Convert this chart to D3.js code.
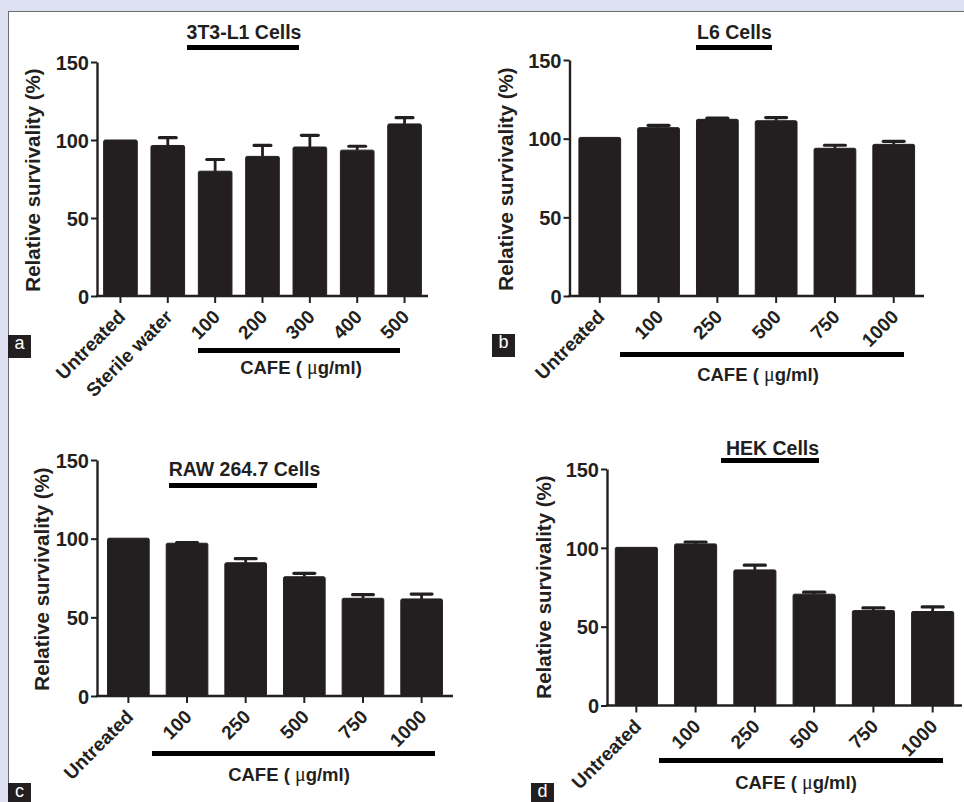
<!DOCTYPE html>
<html>
<head>
<meta charset="utf-8">
<script src="https://cdn.jsdelivr.net/npm/d3@7"></script>
<style>
  html, body { margin: 0; padding: 0; background: #dde1f1; }
  svg { display: block; }
  text { font-family: "Liberation Sans", Arial, sans-serif; fill: #231f20; }
</style>
</head>
<body>
<div id="figure"></div>
<script>
// values
var yTicks = [0, 50, 100, 150];

var aCategories = ["Untreated", "Sterile water", "100", "200", "300", "400", "500"];
var aValues = [100, 96.5, 80, 89.5, 95.5, 93.5, 110.3];
var aErrors = [0, 5, 7.5, 7, 7.5, 2.5, 4];

var bCategories = ["Untreated", "100", "250", "500", "750", "1000"];
var bValues = [100.8, 107, 112.3, 111.4, 93.9, 96.4];
var bErrors = [0, 1.5, 0.7, 2, 1.9, 1.9];

var cCategories = ["Untreated", "100", "250", "500", "750", "1000"];
var cValues = [100.3, 97.1, 84.7, 75.8, 62.1, 61.7];
var cErrors = [0, 0.4, 2.6, 2.2, 2.3, 3.1];

var dCategories = ["Untreated", "100", "250", "500", "750", "1000"];
var dValues = [100.3, 102.5, 86, 70.6, 60.2, 59.6];
var dErrors = [0, 1.2, 3, 1.3, 1.7, 2.9];

var width = 964, height = 802;
var ink = "#231f20";

var svg = d3.select("#figure")
    .append("svg")
    .attr("width", width)
    .attr("height", height);

// white sheet with a thin grey edge
svg.append("rect")
    .attr("x", 8.5).attr("y", 11.5)
    .attr("width", width).attr("height", height)
    .attr("fill", "#fff")
    .attr("stroke", "#6d6d6d")
    .attr("stroke-width", 1);

var panels = [
    { letter: "a", title: "3T3-L1 Cells", cats: aCategories, vals: aValues, errs: aErrors,
      x0: 97, x1: 428, yTop: 62, yBot: 296, outer: 0.14,
      titleX: 244, titleY: 38.5, titleBar: [187, 299, 45],
      cafeBar: [198, 400, 348], cafeX: 301, cafeY: 374,
      box: [8, 335], yTitle: [40, 180] },
    { letter: "b", title: "L6 Cells", cats: bCategories, vals: bValues, errs: bErrors,
      x0: 569.5, x1: 924, yTop: 60, yBot: 296, outer: 0.16,
      titleX: 734.5, titleY: 38.5, titleBar: [696, 772, 45],
      cafeBar: [620, 904, 352], cafeX: 758, cafeY: 381,
      box: [492, 334], yTitle: [513, 179] },
    { letter: "c", title: "RAW 264.7 Cells", cats: cCategories, vals: cValues, errs: cErrors,
      x0: 97, x1: 453, yTop: 460, yBot: 696, outer: 0.18,
      titleX: 244.5, titleY: 476, titleBar: [169, 317, 483],
      cafeBar: [152, 435, 751], cafeX: 289, cafeY: 781,
      box: [8, 783], yTitle: [49, 579] },
    { letter: "d", title: "HEK Cells", cats: dCategories, vals: dValues, errs: dErrors,
      x0: 607, x1: 962, yTop: 469, yBot: 705.5, outer: 0.14,
      titleX: 772.5, titleY: 455, titleBar: [721, 819, 458],
      cafeBar: [659, 943, 758], cafeX: 796, cafeY: 789,
      box: [531, 783], yTitle: [551, 587] }
];

panels.forEach(drawPanel);

function drawPanel(p) {
    var g = svg.append("g").attr("class", "panel-" + p.letter);

    var x = d3.scaleBand()
        .domain(p.cats)
        .range([p.x0, p.x1])
        .paddingInner(0.29)
        .paddingOuter(p.outer);

    var y = d3.scaleLinear()
        .domain([0, 150])
        .range([p.yBot, p.yTop]);

    var rows = p.cats.map(function (c, i) {
        return { cat: c, val: p.vals[i], err: p.errs[i] };
    });

    // bars
    g.append("g")
        .selectAll("rect")
        .data(rows)
        .enter().append("rect")
        .attr("x", function (d) { return x(d.cat); })
        .attr("y", function (d) { return y(d.val); })
        .attr("width", x.bandwidth())
        .attr("height", function (d) { return y(0) - y(d.val); })
        .attr("rx", 1.5)
        .attr("fill", ink)
        .attr("stroke", ink)
        .attr("stroke-width", 1);

    // error bars (upper half only)
    var eb = g.append("g")
        .selectAll("g")
        .data(rows.filter(function (d) { return d.err > 0; }))
        .enter().append("g");

    eb.append("line")
        .attr("x1", function (d) { return x(d.cat) + x.bandwidth() / 2; })
        .attr("x2", function (d) { return x(d.cat) + x.bandwidth() / 2; })
        .attr("y1", function (d) { return y(d.val); })
        .attr("y2", function (d) { return y(d.val + d.err); })
        .attr("stroke", ink)
        .attr("stroke-width", 2.8);

    eb.append("line")
        .attr("x1", function (d) { return x(d.cat) + x.bandwidth() * 0.25; })
        .attr("x2", function (d) { return x(d.cat) + x.bandwidth() * 0.75; })
        .attr("y1", function (d) { return y(d.val + d.err); })
        .attr("y2", function (d) { return y(d.val + d.err); })
        .attr("stroke", ink)
        .attr("stroke-width", 3.2)
        .attr("stroke-linecap", "round");

    // y axis
    var yAxis = g.append("g")
        .attr("transform", "translate(" + p.x0 + ",0)")
        .call(d3.axisLeft(y).tickValues(yTicks).tickSize(6).tickSizeOuter(0).tickPadding(2));
    yAxis.select(".domain").attr("stroke", ink).attr("stroke-width", 2.4);
    yAxis.selectAll(".tick line").attr("stroke", ink).attr("stroke-width", 2);
    yAxis.selectAll(".tick text")
        .attr("fill", ink)
        .style("font-size", "20px")
        .style("font-weight", "bold")
        .attr("dy", "0.36em");

    // x axis
    var xAxis = g.append("g")
        .attr("transform", "translate(0," + p.yBot + ")")
        .call(d3.axisBottom(x).tickSize(7).tickSizeOuter(0));
    xAxis.select(".domain")
        .attr("d", "M" + (p.x0 - 1) + ",0H" + p.x1)
        .attr("stroke", ink).attr("stroke-width", 2.4);
    xAxis.selectAll(".tick line").attr("stroke", ink).attr("stroke-width", 2);
    xAxis.selectAll(".tick text")
        .attr("fill", ink)
        .style("font-size", "19px")
        .style("font-weight", "bold")
        .attr("text-anchor", "end")
        .attr("y", 0).attr("dy", 0)
        .attr("transform", "translate(6,22) rotate(-45)");

    // title with its bar
    g.append("text")
        .attr("x", p.titleX).attr("y", p.titleY)
        .attr("text-anchor", "middle")
        .style("font-size", "19.5px")
        .style("font-weight", "bold")
        .text(p.title);
    g.append("rect")
        .attr("x", p.titleBar[0]).attr("y", p.titleBar[2])
        .attr("width", p.titleBar[1] - p.titleBar[0]).attr("height", 5)
        .attr("fill", "#000");

    // CAFE bracket
    g.append("rect")
        .attr("x", p.cafeBar[0]).attr("y", p.cafeBar[2])
        .attr("width", p.cafeBar[1] - p.cafeBar[0]).attr("height", 5)
        .attr("fill", "#000");
    var cafe = g.append("text")
        .attr("x", p.cafeX).attr("y", p.cafeY)
        .attr("text-anchor", "middle")
        .style("font-size", "18.5px")
        .style("font-weight", "bold");
    cafe.append("tspan").text("CAFE ( ");
    cafe.append("tspan")
        .style("font-family", "'Liberation Serif', serif")
        .style("font-weight", "normal")
        .style("font-size", "20px")
        .text("\u03bc");
    cafe.append("tspan").text("g/ml)");

    // y axis title
    g.append("text")
        .attr("transform", "translate(" + p.yTitle[0] + "," + p.yTitle[1] + ") rotate(-90)")
        .attr("text-anchor", "middle")
        .style("font-size", "20.5px")
        .style("font-weight", "bold")
        .text("Relative survivality (%)");

    // panel letter box
    g.append("rect")
        .attr("x", p.box[0]).attr("y", p.box[1])
        .attr("width", 23).attr("height", 23)
        .attr("fill", ink);
    g.append("text")
        .attr("x", p.box[0] + 11.5).attr("y", p.box[1] + 14)
        .attr("text-anchor", "middle")
        .style("font-size", "18px")
        .style("fill", "#fff")
        .text(p.letter);
}
</script>
</body>
</html>
